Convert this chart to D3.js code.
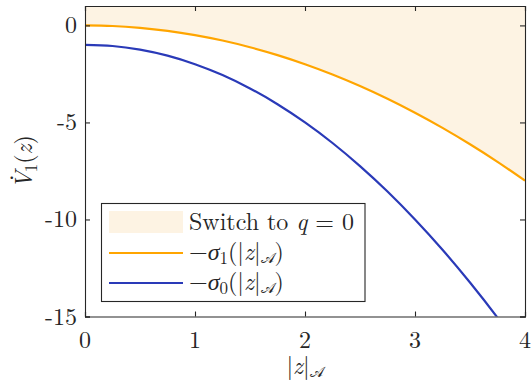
<!DOCTYPE html>
<html><head><meta charset="utf-8">
<script src="https://cdn.jsdelivr.net/npm/d3@7"></script>
<style>body{margin:0;background:#fff}svg{display:block}</style>
</head><body>
<script>
// data
const xs = [0,0.25,0.5,0.75,1,1.25,1.5,1.75,2,2.25,2.5,2.75,3,3.25,3.5,3.75,4];
const sigma1 = [0,-0.03,-0.125,-0.28,-0.5,-0.78,-1.125,-1.53,-2,-2.53,-3.125,-3.78,-4.5,-5.28,-6.125,-7.03,-8];
const sigma0 = [-1,-1.06,-1.25,-1.56,-2,-2.56,-3.25,-4.06,-5,-6.06,-7.25,-8.56,-10,-11.56,-13.25,-15.06,-17];
const xTicks = [0,1,2,3,4];
const yTicks = [0,-5,-10,-15];
const yTickLabels = ["0","-5","-10","-15"];

const FONT = '"Latin Modern Roman"';
const FS = 24;
const W=531,H=383;
const m={l:85,r:6,t:6,b:66.5};
const svg=d3.select("body").append("svg").attr("width",W).attr("height",H);
const x=d3.scaleLinear().domain([0,4]).range([m.l,W-m.r]);
const y=d3.scaleLinear().domain([-15,1]).range([H-m.b,m.t]);
const orange="#FFA500", blue="#2A3AB8", fillC="#FDF3E3", axC="#262626";

svg.append("defs").append("clipPath").attr("id","clip").append("rect")
  .attr("x",x(0)).attr("y",y(1)).attr("width",x(4)-x(0)).attr("height",y(-15)-y(1));

const pts1 = xs.map((v,i)=>[v,sigma1[i]]);
const pts0 = xs.map((v,i)=>[v,sigma0[i]]);
const g=svg.append("g").attr("clip-path","url(#clip)");
g.append("path").datum(pts1)
  .attr("d",d3.area().x(d=>x(d[0])).y0(y(1)).y1(d=>y(d[1])).curve(d3.curveNatural))
  .attr("fill",fillC);
const line=d3.line().x(d=>x(d[0])).y(d=>y(d[1])).curve(d3.curveNatural);
g.append("path").datum(pts1).attr("d",line).attr("fill","none").attr("stroke",orange).attr("stroke-width",2.2);
g.append("path").datum(pts0).attr("d",line).attr("fill","none").attr("stroke",blue).attr("stroke-width",2.2);

// axes (box, inward ticks)
const tl=5;
const axB=svg.append("g").attr("transform",`translate(0,${y(-15)})`)
  .call(d3.axisBottom(x).tickValues(xTicks).tickSize(-tl).tickFormat(""));
const axT=svg.append("g").attr("transform",`translate(0,${y(1)})`)
  .call(d3.axisTop(x).tickValues(xTicks).tickSize(-tl).tickFormat(""));
const axL=svg.append("g").attr("transform",`translate(${x(0)},0)`)
  .call(d3.axisLeft(y).tickValues(yTicks).tickSize(-tl).tickFormat(""));
const axR=svg.append("g").attr("transform",`translate(${x(4)},0)`)
  .call(d3.axisRight(y).tickValues(yTicks).tickSize(-tl).tickFormat(""));
[axB,axT,axL,axR].forEach(a=>{a.selectAll("path,line").attr("stroke",axC).attr("stroke-width",1.1);});

function T(sel){return sel.append("text").style("font-family",FONT).attr("fill",axC);}

// tick labels
xTicks.forEach(d=>T(svg).attr("x",x(d)).attr("y",348).attr("text-anchor","middle").attr("font-size",FS).text(d));
yTicks.forEach((d,i)=>T(svg).attr("x",77).attr("y",y(d)+8).attr("text-anchor","end").attr("font-size",FS).text(yTickLabels[i]));

// axis titles
const xt=T(svg).attr("x",305).attr("y",374).attr("text-anchor","middle").attr("font-size",FS);
xt.append("tspan").text("|");
xt.append("tspan").attr("font-style","italic").text("z");
xt.append("tspan").text("|");
xt.append("tspan").attr("font-size",15).attr("dy",3).text("𝒜");

const yt=T(svg).attr("transform","translate(32,162) rotate(-90)").attr("text-anchor","middle").attr("font-size",FS);
yt.append("tspan").attr("font-style","italic").text("V");
yt.append("tspan").attr("dx",-10).attr("dy",-19).text(".");
yt.append("tspan").attr("font-size",17).attr("dx",2).attr("dy",24).text("1");
yt.append("tspan").attr("dy",-5).text("(");
yt.append("tspan").attr("font-style","italic").text("z");
yt.append("tspan").text(")");

// legend
const lg=svg.append("g");
lg.append("rect").attr("x",101.5).attr("y",203.5).attr("width",263.5).attr("height",98)
  .attr("fill","#fff").attr("stroke",axC).attr("stroke-width",1.1);
lg.append("rect").attr("x",109).attr("y",211).attr("width",74).attr("height",22).attr("fill",fillC);
lg.append("line").attr("x1",109).attr("x2",183).attr("y1",253).attr("y2",253).attr("stroke",orange).attr("stroke-width",2.2);
lg.append("line").attr("x1",109).attr("x2",183).attr("y1",283).attr("y2",283).attr("stroke",blue).attr("stroke-width",2.2);
const t0=T(lg).attr("x",189).attr("y",230).attr("font-size",FS);
t0.append("tspan").text("Switch to ");
t0.append("tspan").attr("font-style","italic").text("q");
t0.append("tspan").text(" = 0");
[[260,"1"],[290,"0"]].forEach(([yy,s])=>{
  const t=T(lg).attr("x",189).attr("y",yy).attr("font-size",FS);
  t.append("tspan").text("−");
  t.append("tspan").attr("font-style","italic").text("σ");
  t.append("tspan").attr("font-size",17).attr("dy",4).text(s);
  t.append("tspan").attr("dy",-4).text("(|");
  t.append("tspan").attr("font-style","italic").text("z");
  t.append("tspan").text("|");
  t.append("tspan").attr("font-size",15).attr("dy",3).text("𝒜");
  t.append("tspan").attr("dy",-3).text(")");
});
</script>
</body></html>
